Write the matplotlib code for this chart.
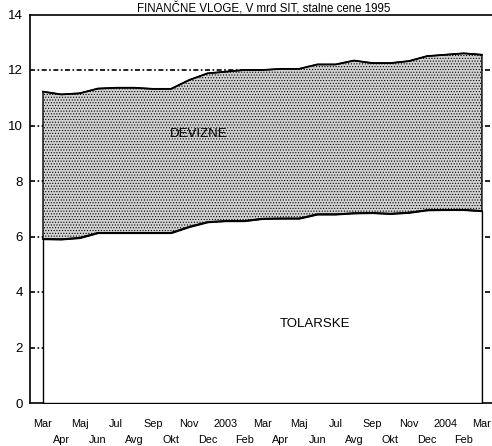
import matplotlib
matplotlib.use('Agg')
import matplotlib.pyplot as plt
import numpy as np

plt.rcParams['font.family'] = ['Liberation Sans', 'DejaVu Sans']
plt.rcParams['hatch.color'] = '#a6a6a6'
plt.rcParams['hatch.linewidth'] = 0.5

# podatki (mrd SIT)
meseci = ['Mar', 'Apr', 'Maj', 'Jun', 'Jul', 'Avg', 'Sep', 'Okt', 'Nov', 'Dec', '2003', 'Feb',
          'Mar', 'Apr', 'Maj', 'Jun', 'Jul', 'Avg', 'Sep', 'Okt', 'Nov', 'Dec', '2004', 'Feb', 'Mar']
tolarske = [5.91, 5.90, 5.95, 6.13, 6.13, 6.13, 6.13, 6.13, 6.35, 6.52, 6.56, 6.56, 6.64,
            6.65, 6.65, 6.80, 6.80, 6.84, 6.85, 6.82, 6.86, 6.95, 6.96, 6.96, 6.92]
skupaj = [11.22, 11.12, 11.16, 11.33, 11.36, 11.36, 11.32, 11.32, 11.64, 11.88, 11.94, 12.00, 12.00,
          12.04, 12.04, 12.20, 12.20, 12.34, 12.25, 12.25, 12.32, 12.50, 12.55, 12.60, 12.55]
y_ticks = [0, 2, 4, 6, 8, 10, 12, 14]

x = np.arange(len(meseci))

W, H = 492, 446
fig = plt.figure(figsize=(W / 100, H / 100), dpi=100)
ax = fig.add_axes([30 / W, 1 - 403 / H, 1 - 30 / W + 0.01, (403 - 14.5) / H])

# mreza
for v in y_ticks[1:-1]:
    ax.axhline(v, color='black', lw=1.2, ls=(0, (3, 1.5, 1, 1.5)), zorder=0)

# devizne (sivo) in tolarske (belo)
ax.fill_between(x, tolarske, skupaj, facecolor='#d2d2d2', hatch='......',
                edgecolor='black', lw=1.0, zorder=2)
ax.fill_between(x, 0, tolarske, facecolor='white', edgecolor='black', lw=1.0, zorder=3)
ax.plot(x, skupaj, color='black', lw=1.3, zorder=4)
ax.plot(x, tolarske, color='black', lw=1.3, zorder=4)

ax.set_xlim(-0.71, 24.55 + 0.01 * W / 18.29)
ax.set_ylim(0, 14)
ax.set_yticks(y_ticks)
ax.tick_params(axis='y', length=0, pad=5, labelsize=9.5)

# dve vrsti oznak na osi x
ax.set_xticks(x[::2])
ax.set_xticklabels(meseci[::2])
ax.set_xticks(x[1::2], minor=True)
ax.set_xticklabels(meseci[1::2], minor=True)
ax.tick_params(axis='x', which='major', length=0, pad=11.5)
ax.tick_params(axis='x', which='minor', length=0, pad=23)
for lab in ax.get_xticklabels(which='both'):
    lab.set_family(['Liberation Sans Narrow', 'Liberation Sans'])
    lab.set_fontsize(7.8)

ax.spines['right'].set_visible(False)
for s in ['left', 'top', 'bottom']:
    ax.spines[s].set_linewidth(1.2)
ax.set_facecolor('white')

ax.text(8.5, 9.69, 'DEVIZNE', fontsize=9.5, ha='center', va='center', zorder=5)
ax.text(14.85, 2.85, 'TOLARSKE', fontsize=9.5, ha='center', va='center', zorder=5)

fig.text(0.535, 1 - 12 / H, 'FINANČNE VLOGE, V mrd SIT, stalne cene 1995',
         ha='center', va='baseline', fontsize=8.3)

fig.savefig('out.png', dpi=100)
